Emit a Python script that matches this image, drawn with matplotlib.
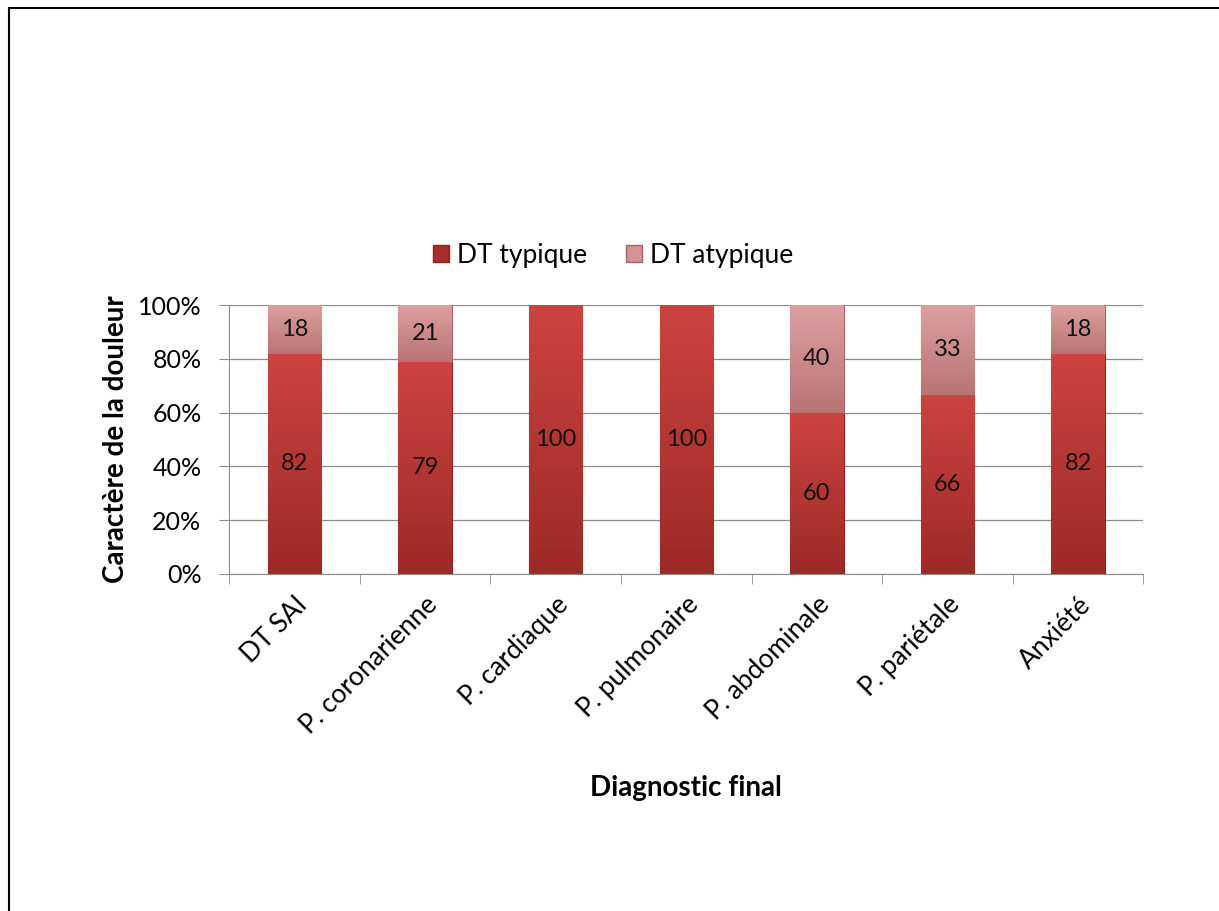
import numpy as np
import matplotlib.pyplot as plt
from matplotlib.lines import Line2D
from matplotlib.colors import LinearSegmentedColormap

plt.rcParams['font.family'] = ['Lato', 'DejaVu Sans']

categories = ["DT SAI", "P. coronarienne", "P. cardiaque", "P. pulmonaire",
              "P. abdominale", "P. pariétale", "Anxiété"]
typique = [82, 79, 100, 100, 60, 66, 82]
atypique = [18, 21, 0, 0, 40, 33, 18]

# name, values, (top colour, bottom colour), edge, legend swatch
series = [
    ("DT typique", typique, ("#cd4340", "#9c2a27"), "#8a2422", "#a82d2b"),
    ("DT atypique", atypique, ("#dca0a0", "#b97474"), "#a46262", "#d49292"),
]

fig = plt.figure(figsize=(12.19, 9.11), dpi=100)
ax = fig.add_axes([0.188, 0.370, 0.750, 0.295])

x = np.arange(len(categories))
totals = np.array(typique, float) + np.array(atypique, float)
width = 0.41
bottom = np.zeros(len(categories))

# vertical gradient used to fill each bar
grad = np.linspace(0, 1, 256).reshape(-1, 1)

for name, vals, (c_top, c_bot), edge, _ in series:
    pct = np.array(vals, float) / totals * 100
    bars = ax.bar(x, pct, width, bottom=bottom, color=c_top, edgecolor=edge,
                  linewidth=0.8, label=name, zorder=2)
    cmap = LinearSegmentedColormap.from_list(name, [c_bot, c_top])
    for b, v, p, b0 in zip(bars, vals, pct, bottom):
        if p <= 0:
            continue
        im = ax.imshow(grad, cmap=cmap, aspect='auto', origin='lower',
                       extent=[b.get_x(), b.get_x() + b.get_width(), b0, b0 + p],
                       zorder=2.1)
        im.set_clip_path(b)
        ax.text(b.get_x() + b.get_width() / 2, b0 + p / 2, str(v),
                ha='center', va='center', fontsize=17, color='#111111', zorder=3)
    bottom += pct

ax.set_xlim(-0.5, len(categories) - 0.5)
ax.set_ylim(0, 100)
ax.set_yticks(range(0, 101, 20))
ax.set_yticklabels([f"{v}%" for v in range(0, 101, 20)], fontsize=18)
ax.yaxis.grid(True, color='#8c8c8c', linewidth=0.9, zorder=0)
ax.set_axisbelow(True)

ax.set_xticks(x)
ax.set_xticklabels(categories, rotation=45, ha='right', rotation_mode='anchor',
                   fontsize=19)
ax.tick_params(axis='x', length=0, pad=13)
ax.set_xticks(np.arange(-0.5, len(categories)), minor=True)
ax.tick_params(axis='x', which='minor', length=7, color='#8c8c8c')
ax.tick_params(axis='y', length=7, color='#8c8c8c', pad=13)

for s in ['top', 'right']:
    ax.spines[s].set_visible(False)
for s in ['left', 'bottom']:
    ax.spines[s].set_color('#8c8c8c')

ax.set_xlabel("Diagnostic final", fontsize=20, fontweight='bold', labelpad=26)
ax.set_ylabel("Caractère de la douleur", fontsize=20, fontweight='bold', labelpad=6)

handles = [plt.Rectangle((0, 0), 1, 1, facecolor=s[4], edgecolor=s[3]) for s in series]
fig.legend(handles, [s[0] for s in series], loc='center', bbox_to_anchor=(0.503, 0.720),
           ncol=2, frameon=False, fontsize=19, handlelength=0.6, handleheight=0.6,
           handletextpad=0.3, columnspacing=1.5)

# outer frame (left and top edges)
fig.add_artist(Line2D([0.0075, 0.0075], [0, 0.991], color='black', linewidth=1.5))
fig.add_artist(Line2D([0.0075, 1.0], [0.991, 0.991], color='black', linewidth=1.5))

fig.savefig("out.png", dpi=100)
